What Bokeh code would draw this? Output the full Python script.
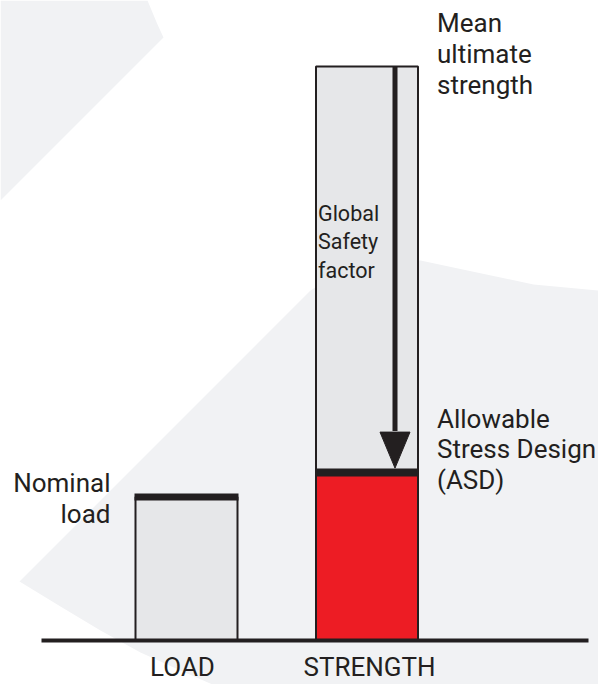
from bokeh.plotting import figure
from bokeh.models import Range1d
from bokeh.core.properties import value
from bokeh.embed import file_html
from bokeh.resources import INLINE

# ---------------- data ----------------
categories = ["LOAD", "STRENGTH"]
category_pos = [1, 2]
nominal_load = [100]          # nominal load level
asd_strength = [117]          # allowable stress design level
mean_ultimate = [400]         # mean ultimate strength level

load_labels = ["Nominal", "load"]
mean_labels = ["Mean", "ultimate", "strength"]
asd_labels = ["Allowable", "Stress Design", "(ASD)"]
factor_labels = ["Global", "Safety", "factor"]

# ---------------- layout helpers (reference pixel space) ----------------
W, H = 598, 684
KX = 180.5      # px per category step
KY = 1.435      # px per unit of load/strength
X0_PX, Y0_PX = 186.0, 640.0   # LOAD centre, ground line

def X(px):
    return 1 + (px - X0_PX) / KX

def Y(py):
    return (Y0_PX - py) / KY

DARK = "#231f20"
GRAY = "#e6e7e9"
BG = "#f1f2f4"
RED = "#ed1c24"
FONT = value("Roboto")

p = figure(width=W, height=H, output_backend="svg", toolbar_location=None,
           x_range=Range1d(X(0), X(W)), y_range=Range1d(Y(H), Y(0)),
           min_border=0, outline_line_color=None, background_fill_color="white",
           border_fill_color="white")
p.xaxis.visible = False
p.yaxis.visible = False
p.grid.visible = False

# ---------------- decorative background shapes ----------------
shape_a = [(0, 0), (147, 0), (152, 12), (157, 24), (163, 37), (0, 200)]
shape_b = [(19, 581), (310, 290), (335, 274), (365, 265), (395, 260), (420, 260),
           (467, 270), (533, 284), (598, 290), (598, 684), (212, 684),
           (180, 670), (140, 652), (100, 630), (60, 606)]
for shp in (shape_a, shape_b):
    p.patch([X(a) for a, _ in shp], [Y(b) for _, b in shp],
            fill_color=BG, line_color=None)

# ---------------- bars ----------------
BW = 102 / KX
load_x = [category_pos[0]]
str_x = [category_pos[1]]

p.vbar(x=load_x, width=BW, bottom=0, top=nominal_load,
       fill_color=GRAY, line_color=DARK, line_width=2)
p.vbar(x=str_x, width=BW, bottom=0, top=mean_ultimate,
       fill_color=GRAY, line_color=DARK, line_width=2)
p.vbar(x=str_x, width=BW, bottom=0, top=asd_strength,
       fill_color=RED, line_color=DARK, line_width=2)

# thick level markers
cap = BW / 2 + 1 / KX
p.segment(x0=[load_x[0] - cap], x1=[load_x[0] + cap], y0=nominal_load, y1=nominal_load,
          line_color=DARK, line_width=7, line_cap="butt")
p.segment(x0=[str_x[0] - cap], x1=[str_x[0] + cap], y0=asd_strength, y1=asd_strength,
          line_color=DARK, line_width=8, line_cap="butt")

# ground line
p.segment(x0=[X(41)], x1=[X(588)], y0=[0], y1=[0], line_color=DARK, line_width=4,
          line_cap="butt")

# ---------------- safety factor arrow ----------------
ax = str_x[0] + 28 / KX
tip = asd_strength[0] + 4.5 / KY
base = tip + 36 / KY
p.segment(x0=[ax], x1=[ax], y0=mean_ultimate, y1=[base + 1 / KY],
          line_color=DARK, line_width=5, line_cap="butt")
p.patch([ax - 15 / KX, ax + 15 / KX, ax], [base, base, tip],
        fill_color=DARK, line_color=DARK, line_width=1)

# ---------------- texts ----------------
def add_lines(lines, x, y_first, step, size, align="left"):
    lift = 0.38 * size / KY   # baseline correction
    p.text(x=[x] * len(lines), y=[y_first + lift - i * step for i in range(len(lines))],
           text=lines, text_font=FONT, text_font_size=f"{size}px", text_color=DARK,
           text_align=align, text_baseline="alphabetic")

right_of_str = str_x[0] + BW / 2 + 19 / KX
add_lines(mean_labels, right_of_str, mean_ultimate[0] + (65 - 31.5) / KY, 31 / KY, 26)
add_lines(asd_labels, right_of_str, asd_strength[0] + (472 - 428) / KY, 30.5 / KY, 26)
add_lines(factor_labels, str_x[0] - BW / 2 + 2 / KX, mean_ultimate[0] - (220 - 65) / KY,
          28.5 / KY, 21.5)
add_lines(load_labels, load_x[0] - BW / 2 - 25 / KX, nominal_load[0] + (496.5 - 492.5) / KY,
          31 / KY, 26, align="right")

lift = 0.38 * 26 / KY
p.text(x=[load_x[0] - 4 / KX, str_x[0] + 2.5 / KX], y=[-36 / KY + lift] * 2, text=categories,
       text_font=FONT, text_font_size="26px", text_color=DARK,
       text_align="center", text_baseline="alphabetic")

open("out.html", "w").write(file_html(p, INLINE))
